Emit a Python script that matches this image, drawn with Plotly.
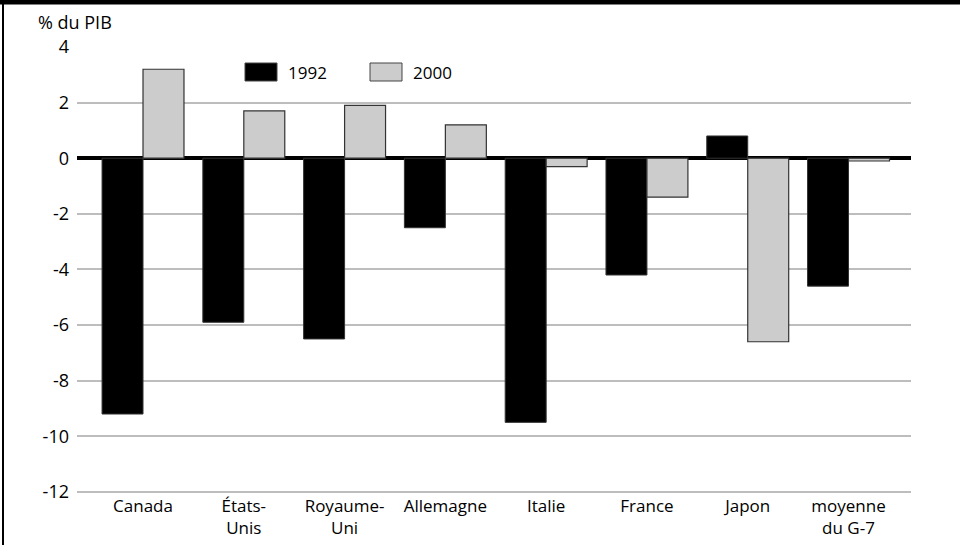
import plotly.graph_objects as go

# Solde budgétaire, % du PIB
pays = ['Canada', 'États-<br>Unis', 'Royaume-<br>Uni', 'Allemagne', 'Italie',
        'France', 'Japon', 'moyenne<br>du G-7']
solde_1992 = [-9.2, -5.9, -6.5, -2.5, -9.5, -4.2, 0.8, -4.6]
solde_2000 = [3.2, 1.7, 1.9, 1.2, -0.3, -1.4, -6.6, -0.1]
y_ticks = [4, 2, 0, -2, -4, -6, -8, -10, -12]
y_labels = ['4', '2', '0', '-2', '-4', '-6', '-8', '-10', '-12']

FONT = 'Open Sans'
L, R, T, B = 77, 49, 47, 52
W, H = 960, 545
pw, ph = W - L - R, H - T - B


def px_x(x):
    return (x - L) / pw


def px_y(y):
    return (H - B - y) / ph


fig = go.Figure()
fig.add_trace(go.Bar(x=pays, y=solde_1992, name='1992',
                     marker=dict(color='black', line=dict(color='#333333', width=1))))
fig.add_trace(go.Bar(x=pays, y=solde_2000, name='2000',
                     marker=dict(color='#cccccc', line=dict(color='#333333', width=1.2))))

fig.update_layout(
    width=W, height=H,
    margin=dict(l=L, r=R, t=T, b=B),
    plot_bgcolor='white', paper_bgcolor='white',
    barmode='group', bargap=0.187, bargroupgap=0,
    showlegend=False,
    font=dict(family=FONT, size=17, color='black'),
)
fig.update_xaxes(range=[-0.655, 7.62], showgrid=False, showline=False, automargin=False,
                 ticks='', ticklabelstandoff=1, tickfont=dict(size=17))
# bottom of range nudged so the -12 gridline is still drawn
fig.update_yaxes(range=[-12.04, 4], tickvals=y_ticks, ticktext=y_labels, showgrid=True,
                 gridcolor='#bdbdbd', gridwidth=1.5, automargin=False,
                 zeroline=True, zerolinecolor='black', zerolinewidth=3.5,
                 showline=False, ticks='', ticklabelstandoff=7,
                 tickfont=dict(size=18))

# axis title
fig.add_annotation(text='% du PIB', xref='paper', yref='paper',
                   x=px_x(36), y=px_y(22), xanchor='left', yanchor='middle',
                   showarrow=False, font=dict(size=18))

# legend drawn by hand
for (x0, lab, col) in [(245, '1992', 'black'), (370, '2000', '#cccccc')]:
    fig.add_shape(type='rect', xref='paper', yref='paper',
                  x0=px_x(x0), x1=px_x(x0 + 32), y0=px_y(81), y1=px_y(63),
                  fillcolor=col, line=dict(color='#444444', width=1))
    fig.add_annotation(text=lab, xref='paper', yref='paper',
                       x=px_x(x0 + 41), y=px_y(72), xanchor='left', yanchor='middle',
                       showarrow=False, font=dict(size=17))

# frame: thick top rule, left rule
fig.add_shape(type='rect', xref='paper', yref='paper',
              x0=px_x(0), x1=px_x(W), y0=px_y(4.5), y1=px_y(0),
              fillcolor='black', line=dict(width=0))
fig.add_shape(type='line', xref='paper', yref='paper',
              x0=px_x(3), x1=px_x(3), y0=px_y(H), y1=px_y(0),
              line=dict(color='black', width=2))

fig.write_html('out.html', config={'displayModeBar': False},
               post_script="document.body.style.margin='0';"
                           "document.body.style.overflow='hidden';")
